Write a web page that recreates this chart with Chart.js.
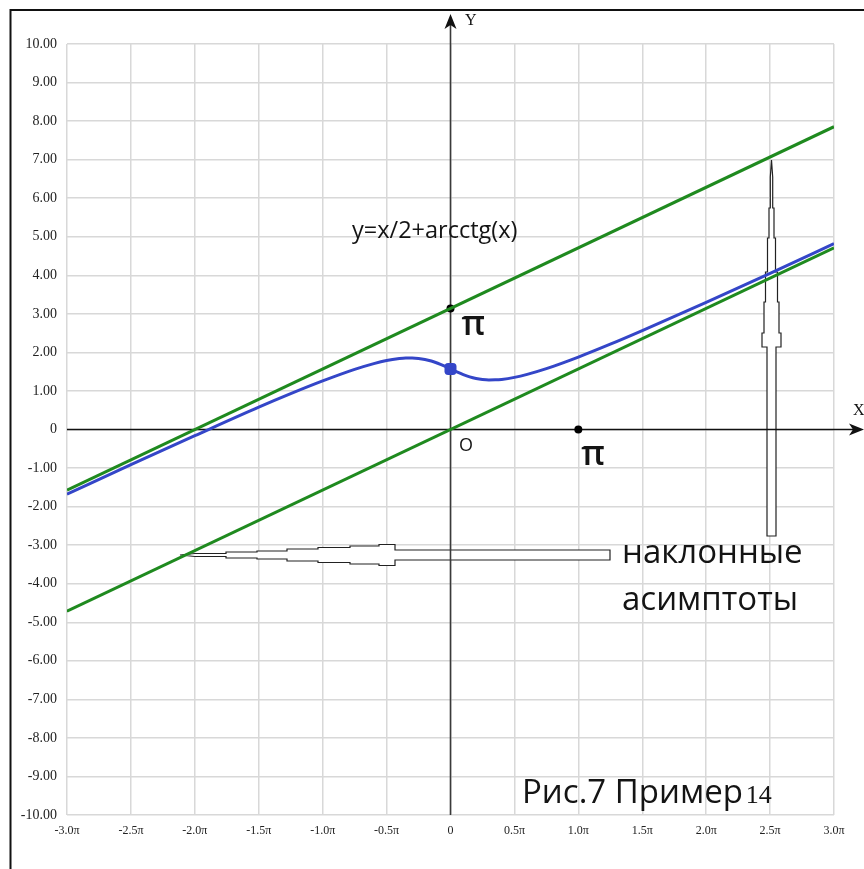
<!DOCTYPE html>
<html>
<head>
<meta charset="utf-8">
<script src="https://cdn.jsdelivr.net/npm/chart.js@4/dist/chart.umd.min.js"></script>
<style>
  html, body { margin: 0; padding: 0; background: #fff; }
  #c { display: block; }
</style>
</head>
<body>
<canvas id="c" width="864" height="869"></canvas>
<script>
// Horizontal values are in multiples of π.
const curveX = [-3, -2.5, -2, -1.5, -1.25, -1, -0.75, -0.6, -0.5, -0.4, -0.35, -0.3, -0.25, -0.2, -0.15, -0.1, -0.05,
                0, 0.05, 0.1, 0.15, 0.2, 0.25, 0.3, 0.35, 0.4, 0.5, 0.6, 0.75, 1, 1.25, 1.5, 2, 2.5, 3];
const curveY = [-1.68, -0.91, -0.16, 0.58, 0.93, 1.26, 1.56, 1.71, 1.79, 1.84, 1.854, 1.855, 1.844, 1.818, 1.776, 1.718, 1.648,
                1.571, 1.494, 1.424, 1.366, 1.324, 1.298, 1.286, 1.288, 1.300, 1.352, 1.430, 1.579, 1.879, 2.213, 2.566, 3.30, 4.05, 4.82];

const upperAsymX = [-3, 3];
const upperAsymY = [-1.571, 7.854];
const lowerAsymX = [-3, 3];
const lowerAsymY = [-4.712, 4.712];

// marked points: (0, π) and (π, 0)
const markX = [0, 1];
const markY = [3.1416, 0];
const markText = ['π', 'π'];

// the curve's crossing of the vertical axis: (0, π/2)
const centerX = [0];
const centerY = [1.5708];

const xTickValues = [-3, -2.5, -2, -1.5, -1, -0.5, 0, 0.5, 1, 1.5, 2, 2.5, 3];
const xTickLabels = ['-3.0π', '-2.5π', '-2.0π', '-1.5π', '-1.0π', '-0.5π', '0', '0.5π', '1.0π', '1.5π', '2.0π', '2.5π', '3.0π'];
const yTickValues = [-10, -9, -8, -7, -6, -5, -4, -3, -2, -1, 0, 1, 2, 3, 4, 5, 6, 7, 8, 9, 10];
const yTickLabels = ['-10.00', '-9.00', '-8.00', '-7.00', '-6.00', '-5.00', '-4.00', '-3.00', '-2.00', '-1.00', '0',
                     '1.00', '2.00', '3.00', '4.00', '5.00', '6.00', '7.00', '8.00', '9.00', '10.00'];

const titleText = 'y=x/2+arcctg(x)';
const noteLines = ['наклонные', 'асимптоты'];
const captionText = 'Рис.7 Пример';
const captionNum = '14';

const GREEN = '#1f8a1f';
const BLUE = '#3446c8';

const pts = (xs, ys) => xs.map((v, i) => ({ x: v, y: ys[i] }));

// stepped "pencil" outline arrow: segments [from, to, halfWidth] along its axis
function blockArrow(ctx, horizontal, center, tip, segs) {
  const P = (a, b) => horizontal ? [a, center + b] : [center + b, a];
  const top = [P(tip, 0)];
  segs.forEach(([s, e, h]) => { top.push(P(s, -h)); top.push(P(e, -h)); });
  const bottom = [];
  segs.slice().reverse().forEach(([s, e, h]) => { bottom.push(P(e, h)); bottom.push(P(s, h)); });
  const all = top.concat(bottom);
  ctx.beginPath();
  ctx.moveTo(all[0][0], all[0][1]);
  for (let i = 1; i < all.length; i++) ctx.lineTo(all[i][0], all[i][1]);
  ctx.closePath();
  ctx.fillStyle = '#fff';
  ctx.fill();
  ctx.strokeStyle = '#222';
  ctx.lineWidth = 1.2;
  ctx.stroke();
}

function arrowHead(ctx, tipX, tipY, dirX, dirY) {
  const len = 15, half = 6, notch = 4;
  const px = -dirY, py = dirX;
  ctx.beginPath();
  ctx.moveTo(tipX, tipY);
  ctx.lineTo(tipX - dirX * len + px * half, tipY - dirY * len + py * half);
  ctx.lineTo(tipX - dirX * (len - notch), tipY - dirY * (len - notch));
  ctx.lineTo(tipX - dirX * len - px * half, tipY - dirY * len - py * half);
  ctx.closePath();
  ctx.fill();
}

const decor = {
  id: 'decor',
  beforeDatasetsDraw(chart) {
    const { ctx, chartArea: a, scales: { x, y } } = chart;
    ctx.save();
    // outline arrows pointing at the asymptotes
    blockArrow(ctx, true, 555, 180, [[195, 226, 1.5], [226, 257, 3], [257, 287, 4], [287, 318, 6], [318, 350, 7.5], [350, 379, 9], [379, 395, 10.5], [395, 610, 5]]);
    blockArrow(ctx, false, 771.5, 160, [[177, 208, 1.2], [208, 238, 2.5], [238, 272, 4], [272, 302, 6], [302, 333, 7.5], [333, 347, 9.5], [347, 536, 4.5]]);

    const x0 = x.getPixelForValue(0);
    const y0 = y.getPixelForValue(0);
    // vertical axis
    ctx.strokeStyle = '#3a3a3a';
    ctx.fillStyle = '#111';
    ctx.lineWidth = 1.6;
    ctx.beginPath();
    ctx.moveTo(x0, a.bottom);
    ctx.lineTo(x0, 24);
    ctx.stroke();
    arrowHead(ctx, x0, 14, 0, -1);
    // horizontal axis
    ctx.strokeStyle = '#111';
    ctx.beginPath();
    ctx.moveTo(a.left, y0);
    ctx.lineTo(854, y0);
    ctx.stroke();
    arrowHead(ctx, 864, y0, 1, 0);
    ctx.restore();
  },
  afterDraw(chart) {
    const { ctx, scales: { x, y } } = chart;
    ctx.save();
    ctx.fillStyle = '#141414';
    ctx.textBaseline = 'alphabetic';
    ctx.textAlign = 'left';

    ctx.font = '16px "Liberation Serif"';
    ctx.fillText('Y', 465, 25);
    ctx.fillText('X', 853, 415);

    ctx.font = '23.5px "Open Sans"';
    ctx.fillText(titleText, 352, 238);

    // labels of the marked points
    ctx.font = '600 34px "Open Sans"';
    const p1 = [x.getPixelForValue(markX[0]), y.getPixelForValue(markY[0])];
    ctx.fillText(markText[0], p1[0] + 11, p1[1] + 27);
    const p2 = [x.getPixelForValue(markX[1]), y.getPixelForValue(markY[1])];
    ctx.fillText(markText[1], p2[0] + 3, p2[1] + 35);

    ctx.font = '18px "Open Sans"';
    ctx.fillText('O', 459, 451);

    ctx.font = '33px "Open Sans"';
    ctx.fillText(noteLines[0], 622, 563);
    ctx.fillText(noteLines[1], 622, 610);

    ctx.fillText(captionText, 522, 803);
    const cw = ctx.measureText(captionText).width;
    ctx.font = '26px "Liberation Serif"';
    ctx.fillText(captionNum, 522 + cw + 3, 803);

    // frame
    ctx.strokeStyle = '#111';
    ctx.lineWidth = 2;
    ctx.beginPath();
    ctx.moveTo(10.5, 869);
    ctx.lineTo(10.5, 10);
    ctx.lineTo(864, 10);
    ctx.stroke();
    ctx.restore();
  }
};

new Chart(document.getElementById('c'), {
  type: 'scatter',
  data: {
    datasets: [
      { data: pts(upperAsymX, upperAsymY), showLine: true, borderColor: GREEN, borderWidth: 3, pointRadius: 0 },
      { data: pts(lowerAsymX, lowerAsymY), showLine: true, borderColor: GREEN, borderWidth: 3, pointRadius: 0 },
      { data: pts(curveX, curveY), showLine: true, borderColor: BLUE, borderWidth: 3, pointRadius: 0, cubicInterpolationMode: 'monotone' },
      { data: pts(centerX, centerY), pointRadius: 7, pointBackgroundColor: BLUE, pointBorderWidth: 0, pointStyle: 'rectRounded' },
      { data: pts(markX, markY), pointRadius: 4, pointBackgroundColor: '#000', pointBorderWidth: 0 }
    ]
  },
  options: {
    responsive: false,
    animation: false,
    devicePixelRatio: 1,
    layout: { padding: { left: 0, right: 30, top: 44, bottom: 10 } },
    plugins: { legend: { display: false }, tooltip: { enabled: false } },
    scales: {
      x: {
        type: 'linear', min: -3, max: 3,
        afterBuildTicks: s => { s.ticks = xTickValues.map(v => ({ value: v })); },
        afterFit: s => { s.height = 44; },
        ticks: {
          autoSkip: false, maxRotation: 0, padding: 9, color: '#222',
          font: { family: 'Liberation Serif', size: 12 },
          callback: v => xTickLabels[xTickValues.indexOf(v)]
        },
        grid: { color: '#d8d8d8', lineWidth: 1.5, drawTicks: false },
        border: { display: false }
      },
      y: {
        min: -10, max: 10,
        afterBuildTicks: s => { s.ticks = yTickValues.map(v => ({ value: v })); },
        afterFit: s => { s.width = 67; },
        ticks: {
          autoSkip: false, padding: 10, color: '#222',
          font: { family: 'Liberation Serif', size: 14 },
          callback: v => yTickLabels[yTickValues.indexOf(v)]
        },
        grid: { color: '#d8d8d8', lineWidth: 1.5, drawTicks: false },
        border: { display: false }
      }
    }
  },
  plugins: [decor]
});
</script>
</body>
</html>
